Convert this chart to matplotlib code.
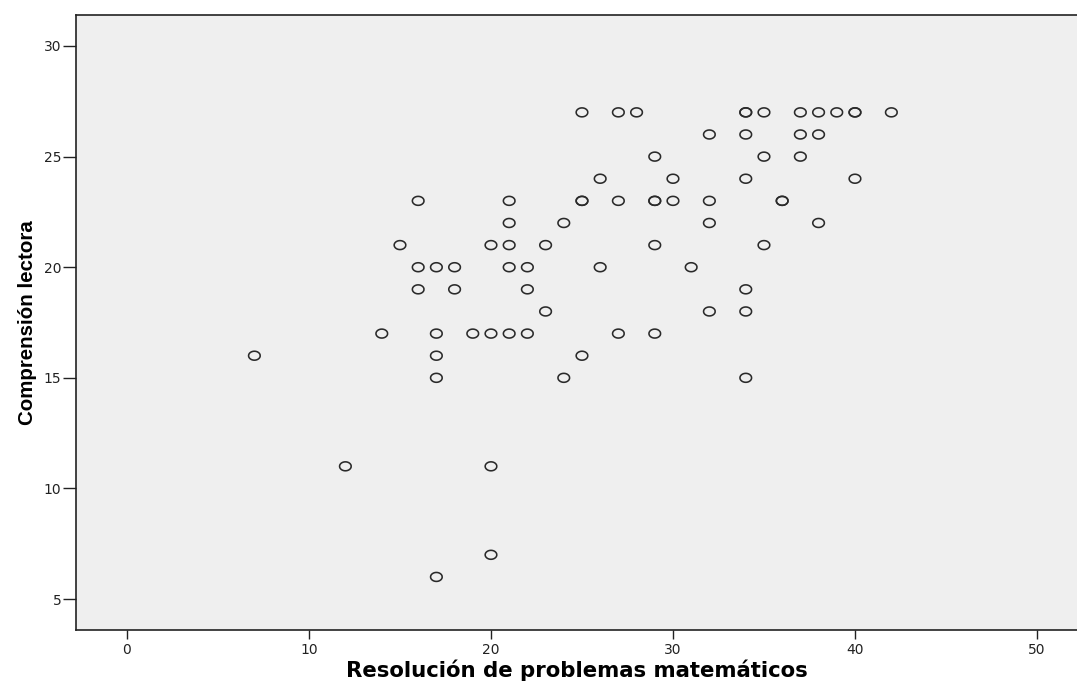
import matplotlib
matplotlib.use("Agg")
import matplotlib.pyplot as plt
from matplotlib.path import Path
import numpy as np

# Resolución de problemas matemáticos (x) vs Comprensión lectora (y)
math_score = [25, 27, 28, 34, 34, 35, 37, 38, 39, 40, 40, 42,
              32, 34, 37, 38,
              29, 35, 37,
              26, 30, 34, 40,
              16, 21, 25, 25, 27, 29, 29, 30, 32, 36, 36,
              21, 24, 32, 38,
              15, 20, 21, 23, 29, 35,
              16, 17, 18, 21, 22, 26, 31,
              16, 18, 22, 34,
              23, 32, 34,
              14, 17, 19, 20, 21, 22, 27, 29,
              7, 17, 25,
              17, 24, 34,
              12, 20,
              20,
              17]
reading_score = [27, 27, 27, 27, 27, 27, 27, 27, 27, 27, 27, 27,
                 26, 26, 26, 26,
                 25, 25, 25,
                 24, 24, 24, 24,
                 23, 23, 23, 23, 23, 23, 23, 23, 23, 23, 23,
                 22, 22, 22, 22,
                 21, 21, 21, 21, 21, 21,
                 20, 20, 20, 20, 20, 20, 20,
                 19, 19, 19, 19,
                 18, 18, 18,
                 17, 17, 17, 17, 17, 17, 17, 17,
                 16, 16, 16,
                 15, 15, 15,
                 11, 11,
                 7,
                 6]

x_ticks = [0, 10, 20, 30, 40, 50]
y_ticks = [5, 10, 15, 20, 25, 30]

plt.rcParams['font.family'] = ['DejaVu Sans']

# slightly wide ellipse marker, like the stretched SPSS circles
t = np.linspace(0, 2 * np.pi, 60)
ellipse = Path(np.column_stack([1.3 * np.cos(t), np.sin(t)]))

fig = plt.figure(figsize=(10.77, 6.86), dpi=100)
ax = fig.add_axes([0.0706, 0.0816, 0.9294, 0.8965])
ax.set_facecolor('#efefef')

ax.scatter(math_score, reading_score, marker=ellipse, s=70,
           facecolors='none', edgecolors='#2a2a2a', linewidths=1.15, zorder=3)

ax.set_xlim(-2.8, 52.2)
ax.set_ylim(3.6, 31.4)
ax.set_xticks(x_ticks)
ax.set_yticks(y_ticks)
ax.tick_params(axis='x', length=6.5, width=1, pad=3, labelsize=10, colors='#222222')
ax.tick_params(axis='y', length=9.5, width=1, pad=1, labelsize=10, colors='#222222')

for side in ['left', 'bottom', 'top']:
    ax.spines[side].set_linewidth(1.2)
    ax.spines[side].set_color('#222222')
ax.spines['right'].set_visible(False)

ax.set_xlabel('Resolución de problemas matemáticos', fontsize=15.3, fontweight='bold',
              labelpad=2)
ax.set_ylabel('Comprensión lectora', fontsize=14.8, fontweight='bold', labelpad=5,
              family=['Liberation Sans', 'DejaVu Sans'])

fig.savefig('out.png', dpi=100)
